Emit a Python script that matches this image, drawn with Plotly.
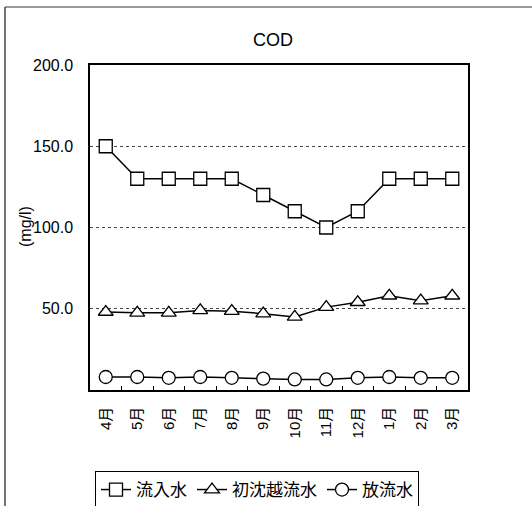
import plotly.graph_objects as go

months = ["4月", "5月", "6月", "7月", "8月", "9月", "10月", "11月", "12月", "1月", "2月", "3月"]
inflow = [150, 130, 130, 130, 130, 120, 110, 100, 110, 130, 130, 130]
primary_overflow = [48, 47.5, 47.5, 49, 48.5, 47, 45, 51, 54, 58, 55, 58]
effluent = [8, 8, 7.5, 8, 7.5, 7, 6.5, 6.5, 7.5, 8, 7.5, 7.5]

FONT = "Arial, Liberation Sans, Noto Sans CJK JP"

fig = go.Figure()
series = [
    ("流入水", inflow, "square"),
    ("初沈越流水", primary_overflow, "triangle-up"),
    ("放流水", effluent, "circle"),
]
for name, vals, sym in series:
    fig.add_trace(go.Scatter(
        x=months, y=vals, name=name, mode="lines+markers",
        line=dict(color="black", width=1.5),
        marker=dict(symbol=sym, size=13, color="white",
                    line=dict(color="black", width=1.3)),
    ))

# plot area: x 90..468, y 65..390
L, R, T, B = 90, 468, 65, 390
W, H = 532, 506
pw, ph = R - L, B - T

fig.update_layout(
    width=W, height=H,
    margin=dict(l=L, r=W - R, t=T, b=H - B, autoexpand=False),
    paper_bgcolor="white", plot_bgcolor="white",
    font=dict(family=FONT, size=15, color="black"),
    title=dict(text="COD", x=273 / W, xanchor="center",
               y=1 - 40 / H, yanchor="middle", font=dict(size=18)),
    showlegend=True,
    legend=dict(orientation="h", x=(95 - L) / pw, y=(B - 471) / ph,
                xanchor="left", yanchor="top",
                bordercolor="black", borderwidth=1,
                font=dict(size=17), tracegroupgap=0),
    xaxis=dict(
        type="category", showline=True, linecolor="black", linewidth=1.5,
        mirror=True, ticks="inside", ticklen=4, tickcolor="black",
        tickson="boundaries", tickangle=-90, showgrid=False,
        tickfont=dict(size=15), ticklabelstandoff=9,
        range=[-0.5, len(months) - 0.5], automargin=False,
    ),
    yaxis=dict(
        range=[0, 200], tickvals=[50, 100, 150, 200],
        ticktext=["50.0", "100.0", "150.0", "200.0"],
        showline=True, linecolor="black", linewidth=1.5, mirror=True,
        ticks="", showgrid=True, gridcolor="#444444", gridwidth=1,
        griddash="dot", zeroline=False, tickfont=dict(size=16),
        ticklabelstandoff=12, automargin=False,
    ),
)

# y-axis unit label
fig.add_annotation(text="(mg/l)", xref="paper", yref="paper",
                   x=(25 - L) / pw, y=(B - 227) / ph, textangle=-90,
                   showarrow=False, xanchor="center", yanchor="middle",
                   font=dict(size=16))

# outer chart frame (left and top edges)
fig.add_shape(type="line", xref="paper", yref="paper",
              x0=(5 - L) / pw, x1=(W + 10 - L) / pw,
              y0=(B - 7) / ph, y1=(B - 7) / ph,
              line=dict(color="#777777", width=1.5))
fig.add_shape(type="line", xref="paper", yref="paper",
              x0=(5 - L) / pw, x1=(5 - L) / pw,
              y0=(B - 7) / ph, y1=(B - H - 10) / ph,
              line=dict(color="#444444", width=1.5))

fig.write_html("out.html")
